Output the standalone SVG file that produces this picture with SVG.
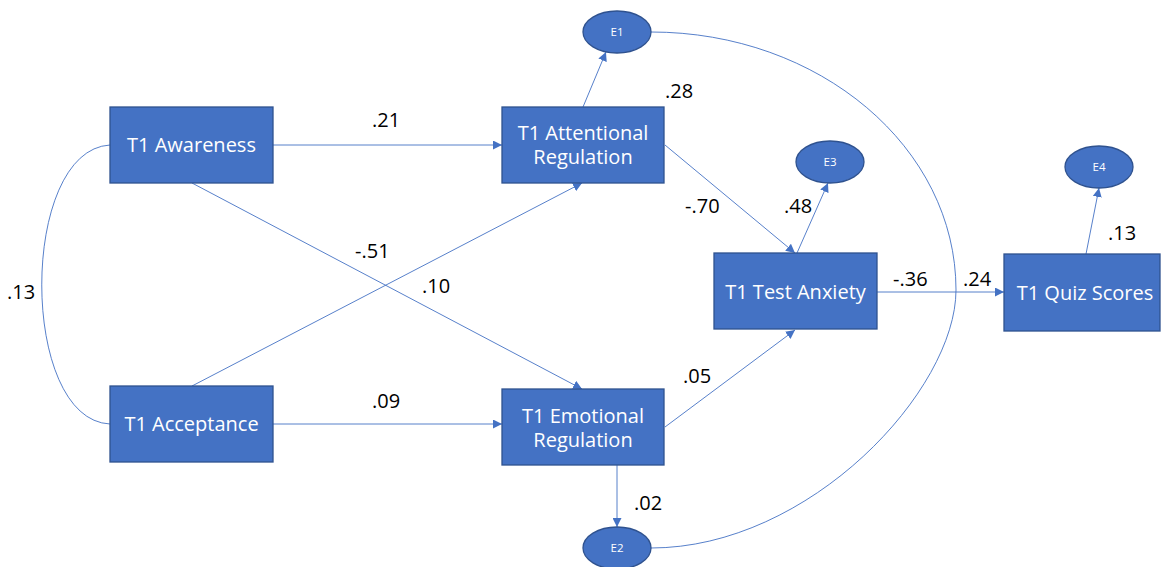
<svg xmlns="http://www.w3.org/2000/svg" width="1161" height="567" viewBox="0 0 1161 567">
<defs>
<marker id="ah" viewBox="0 0 10 10" refX="10" refY="5" markerWidth="9" markerHeight="9" markerUnits="userSpaceOnUse" orient="auto">
<path d="M0,0 L10,5 L0,10 z" fill="#4472C4"/>
</marker>
<style>
.box{fill:#4472C4;stroke:#2F528F;stroke-width:1.3}
.ell{fill:#4472C4;stroke:#2F528F;stroke-width:1.3}
.nt{font-family:"Open Sans","DejaVu Sans",sans-serif;font-size:20px;fill:#FFFFFF;text-anchor:middle}
.et{font-family:"Open Sans","DejaVu Sans",sans-serif;font-size:11.5px;fill:#FFFFFF;text-anchor:middle}
.lb{font-family:"Open Sans","DejaVu Sans",sans-serif;font-size:20px;fill:#000000}
.cn{stroke:#4472C4;stroke-width:0.9;fill:none}
.ar{marker-end:url(#ah)}
</style>
</defs>
<rect width="1161" height="567" fill="#FFFFFF"/>
<g id="connectors">
<line class="cn ar" x1="273" y1="145" x2="502" y2="145"/>
<line class="cn ar" x1="273" y1="424" x2="502" y2="424"/>
<line class="cn ar" x1="192" y1="183" x2="582" y2="389"/>
<line class="cn ar" x1="192" y1="386" x2="582" y2="183"/>
<line class="cn ar" x1="583" y1="107" x2="606" y2="52"/>
<line class="cn ar" x1="665" y1="145" x2="795" y2="253"/>
<line class="cn ar" x1="665" y1="427" x2="795" y2="330"/>
<line class="cn ar" x1="797" y1="253" x2="828" y2="183"/>
<line class="cn ar" x1="1086" y1="254" x2="1099" y2="188"/>
<line class="cn ar" x1="877" y1="292" x2="1004" y2="292"/>
<line class="cn ar" x1="617" y1="465" x2="617" y2="527"/>
<path class="cn" d="M110,145 C19,150 19,420 110,424"/>
<path class="cn" d="M651,32 C819.5,32 956,147.5 956,290 C956,390 810,548 651,548"/>
</g>
<g id="awareness"><rect class="box" x="110" y="107" width="163" height="76"/><text class="nt" x="191.5" y="152">T1 Awareness</text></g>
<g id="acceptance"><rect class="box" x="110" y="386" width="163" height="76"/><text class="nt" x="191.5" y="431">T1 Acceptance</text></g>
<g id="attentional"><rect class="box" x="502" y="107" width="162" height="76"/><text class="nt" x="583" y="140">T1 Attentional<tspan x="583" dy="24">Regulation</tspan></text></g>
<g id="emotional"><rect class="box" x="502" y="389" width="162" height="76"/><text class="nt" x="583" y="423">T1 Emotional<tspan x="583" dy="24">Regulation</tspan></text></g>
<g id="testanxiety"><rect class="box" x="714" y="253" width="163" height="76"/><text class="nt" x="795.5" y="299">T1 Test Anxiety</text></g>
<g id="quiz"><rect class="box" x="1004" y="254" width="156" height="77"/><text class="nt" x="1085" y="300">T1 Quiz Scores</text></g>
<g id="e1"><ellipse class="ell" cx="617" cy="32" rx="34" ry="21"/><text class="et" x="617" y="36">E1</text></g>
<g id="e2"><ellipse class="ell" cx="617" cy="548" rx="34" ry="21"/><text class="et" x="617" y="552">E2</text></g>
<g id="e3"><ellipse class="ell" cx="830" cy="162" rx="34" ry="21"/><text class="et" x="830" y="166">E3</text></g>
<g id="e4"><ellipse class="ell" cx="1099" cy="167" rx="34" ry="21"/><text class="et" x="1099" y="171">E4</text></g>
<g id="labels">
<text class="lb" x="372" y="127">.21</text>
<text class="lb" x="665" y="98">.28</text>
<text class="lb" x="685" y="213">-.70</text>
<text class="lb" x="784" y="213">.48</text>
<text class="lb" x="355" y="258">-.51</text>
<text class="lb" x="422" y="293">.10</text>
<text class="lb" x="372" y="408">.09</text>
<text class="lb" x="683" y="383">.05</text>
<text class="lb" x="634" y="510">.02</text>
<text class="lb" x="7" y="299">.13</text>
<text class="lb" x="893" y="286">-.36</text>
<text class="lb" x="963" y="286">.24</text>
<text class="lb" x="1108" y="240">.13</text>
</g>
</svg>
